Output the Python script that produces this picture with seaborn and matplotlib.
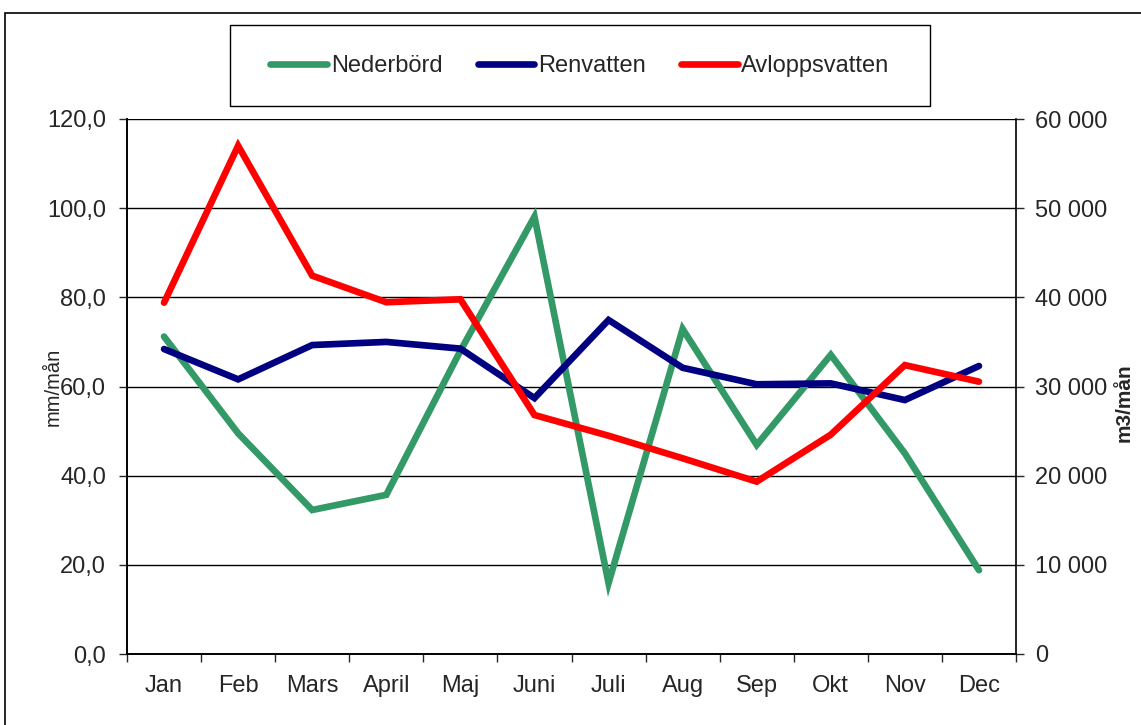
import matplotlib
matplotlib.use("Agg")
import matplotlib.pyplot as plt
import seaborn as sns
import numpy as np
import pandas as pd
from matplotlib.patches import Rectangle
from matplotlib.lines import Line2D
from matplotlib.ticker import FuncFormatter, FixedLocator

months = ['Jan', 'Feb', 'Mars', 'April', 'Maj', 'Juni', 'Juli', 'Aug', 'Sep', 'Okt', 'Nov', 'Dec']
# mm/mån (left axis)
nederbord = [71.2, 49.5, 32.3, 35.7, 68.0, 98.1, 15.9, 72.9, 46.9, 67.1, 45.0, 18.8]
# m3/mån (right axis)
renvatten = [34200, 30800, 34650, 35000, 34250, 28700, 37460, 32100, 30250, 30350, 28480, 32300]
avloppsvatten = [39400, 57000, 42430, 39450, 39780, 26800, 24480, 21950, 19330, 24600, 32400, 30540]

green, navy, red = '#339966', '#000080', '#FF0000'

sns.set_style('white')
plt.rcParams['font.family'] = ['Liberation Sans', 'DejaVu Sans']

df = pd.DataFrame({'pos': np.arange(len(months)), 'Nederbörd': nederbord,
                   'Renvatten': renvatten, 'Avloppsvatten': avloppsvatten})

fig = plt.figure(figsize=(11.41, 7.25), dpi=100)
ax = fig.add_axes([127/1141, 1-654/725, (1016-127)/1141, (654-119)/725])
ax2 = ax.twinx()

lw = 4.8
sns.lineplot(data=df, x='pos', y='Nederbörd', ax=ax, color=green, linewidth=lw,
             solid_capstyle='round', solid_joinstyle='miter', legend=False)
sns.lineplot(data=df, x='pos', y='Renvatten', ax=ax2, color=navy, linewidth=lw,
             solid_capstyle='round', solid_joinstyle='miter', legend=False)
sns.lineplot(data=df, x='pos', y='Avloppsvatten', ax=ax2, color=red, linewidth=lw,
             solid_capstyle='round', solid_joinstyle='miter', legend=False)

ax.set_xlim(-0.5, len(months) - 0.5)
ax.set_ylim(0, 120)
ax2.set_ylim(0, 60000)

# category labels centred, tick marks between categories
ax.xaxis.set_major_locator(FixedLocator(np.arange(-0.5, len(months), 1.0)))
ax.xaxis.set_minor_locator(FixedLocator(np.arange(len(months))))
ax.set_xticklabels([], minor=False)
ax.set_xticklabels(months, minor=True)
ax.tick_params(axis='x', which='major', length=5.5, width=1, direction='out', bottom=True)
ax.tick_params(axis='x', which='minor', length=0, pad=15, labelsize=17)

ax.set_yticks(np.arange(0, 121, 20))
ax.yaxis.set_major_formatter(FuncFormatter(lambda v, p: f"{v:.1f}".replace('.', ',')))
ax.tick_params(axis='y', length=5.5, width=1, direction='out', left=True, labelsize=17, pad=9.5)

ax2.set_yticks(np.arange(0, 60001, 10000))
ax2.yaxis.set_major_formatter(FuncFormatter(lambda v, p: f"{int(v):,}".replace(',', ' ')))
ax2.tick_params(axis='y', length=5.5, width=1, direction='out', right=True, labelsize=17, pad=8)

ax.grid(axis='y', color='black', linewidth=1)
ax.grid(axis='x', visible=False)
ax.set_axisbelow(True)

for a in (ax, ax2):
    a.spines['top'].set_visible(False)
    for s in ('left', 'right', 'bottom'):
        a.spines[s].set_color('black')
        a.spines[s].set_linewidth(1.2)
ax.spines['right'].set_visible(False)

ax.set_xlabel('')
ax.set_ylabel('mm/mån', fontsize=14.5)
ax.yaxis.set_label_coords(-0.0725, 0.5)
ax2.set_ylabel('m3/mån', fontsize=15, fontweight='bold')
ax2.yaxis.set_label_coords(1.111, 0.47)

# legend box
fig.add_artist(Rectangle((230/1141, 1-106/725), 700/1141, 81/725, transform=fig.transFigure,
                         fill=False, edgecolor='black', linewidth=1))
handles = [Line2D([], [], color=c, linewidth=lw, solid_capstyle='round') for c in (green, navy, red)]
fig.legend(handles, ['Nederbörd', 'Renvatten', 'Avloppsvatten'], loc='center',
           bbox_to_anchor=(580/1141, 1-66/725), ncol=3, frameon=False, fontsize=17,
           handlelength=2.4, handletextpad=0.15, columnspacing=1.5)

# outer chart border
fig.add_artist(Rectangle((5/1141, -0.1), 1.2, 1.1 - 13/725, transform=fig.transFigure,
                         fill=False, edgecolor='black', linewidth=1.2))

fig.savefig('out.png', dpi=100)
